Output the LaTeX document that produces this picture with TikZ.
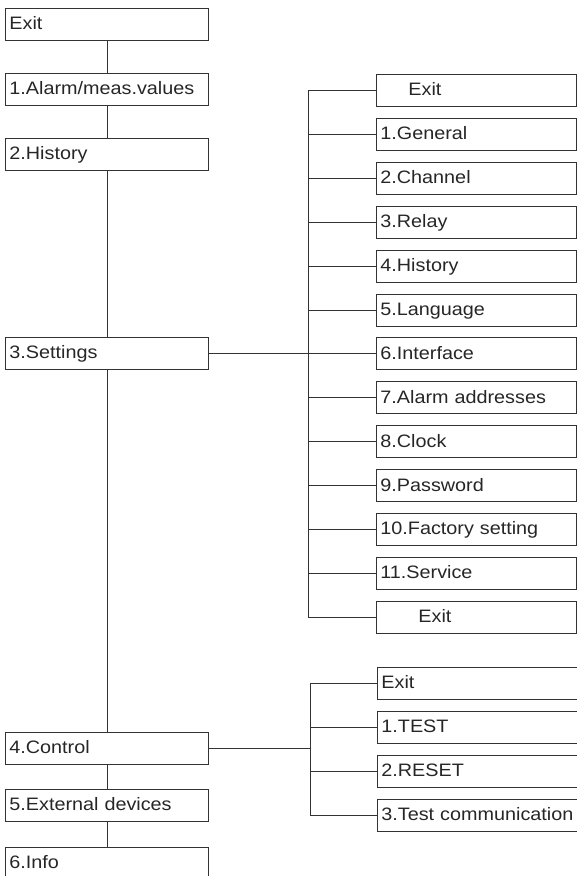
\documentclass[tikz,border=0pt]{standalone}
\usepackage{fontspec}
\setmainfont[FakeStretch=1.1]{Liberation Sans}
\usetikzlibrary{positioning}

\begin{document}
\begin{tikzpicture}[x=1pt, y=-1pt, font=\fontsize{18}{20}\selectfont,
	wire/.style={draw=black!80, line width=0.8pt},
	menubox/.style={wire, text=black!85, anchor=north west, rectangle, minimum height=32pt, inner xsep=4pt, inner ysep=0pt, text height=13.5pt, text depth=2.5pt, align=left, text width=#1},
	menubox/.default=195pt]
	\def\Sx{376}
	\def\Sstep{43.9}
	\def\Cx{377}

	\useasboundingbox (0,0) rectangle (577,876);
	\clip (0,0) rectangle (577,876);

	% main menu
	\node[menubox] (mexit)	at (5,8)	{Exit};
	\node[menubox] (malarm)	at (5,73)	{1.Alarm/meas.values};
	\node[menubox] (mhist)	at (5,138)	{2.History};
	\node[menubox] (mset)	at (5,337)	{3.Settings};
	\node[menubox] (mctrl)	at (5,732)	{4.Control};
	\node[menubox] (mext)	at (5,789)	{5.External devices};
	\node[menubox] (minfo)	at (5,847)	{6.Info};

	\draw[wire] (mexit) -- (malarm);
	\draw[wire] (malarm) -- (mhist);
	\draw[wire] (mhist) -- (mset);
	\draw[wire] (mset) -- (mctrl);
	\draw[wire] (mctrl) -- (mext);
	\draw[wire] (mext) -- (minfo);

	% settings submenu
	\foreach \i/\txt in {0/\hspace*{28pt}Exit, 1/1.General, 2/2.Channel, 3/3.Relay, 4/4.History, 5/5.Language, 6/6.Interface, 7/7.Alarm addresses, 8/8.Clock, 9/9.Password, 10/10.Factory setting, 11/11.Service, 12/\hspace*{38pt}Exit}
		\node[menubox=192pt] (s\i) at (\Sx,74+\i*\Sstep) {\txt};

	\coordinate (sbus) at (308,0);
	\draw[wire] (s0.west) -- (s0.west -| sbus) -- (s12.west -| sbus) -- (s12.west);
	\foreach \i in {1,...,11}
		\draw[wire] (s\i.west) -- (s\i.west -| sbus);
	\draw[wire] (mset.east) -- (mset.east -| s6.west);

	% control submenu
	\foreach \i/\txt in {0/Exit, 1/1.TEST, 2/2.RESET, 3/3.Test communication}
		\node[menubox=210pt] (c\i) at (\Cx,667+\i*44) {\txt};

	\coordinate (cbus) at (310,0);
	\draw[wire] (c0.west) -- (c0.west -| cbus) -- (c3.west -| cbus) -- (c3.west);
	\foreach \i in {1,2}
		\draw[wire] (c\i.west) -- (c\i.west -| cbus);
	\draw[wire] (mctrl.east) -- (mctrl.east -| cbus);
\end{tikzpicture}
\end{document}
